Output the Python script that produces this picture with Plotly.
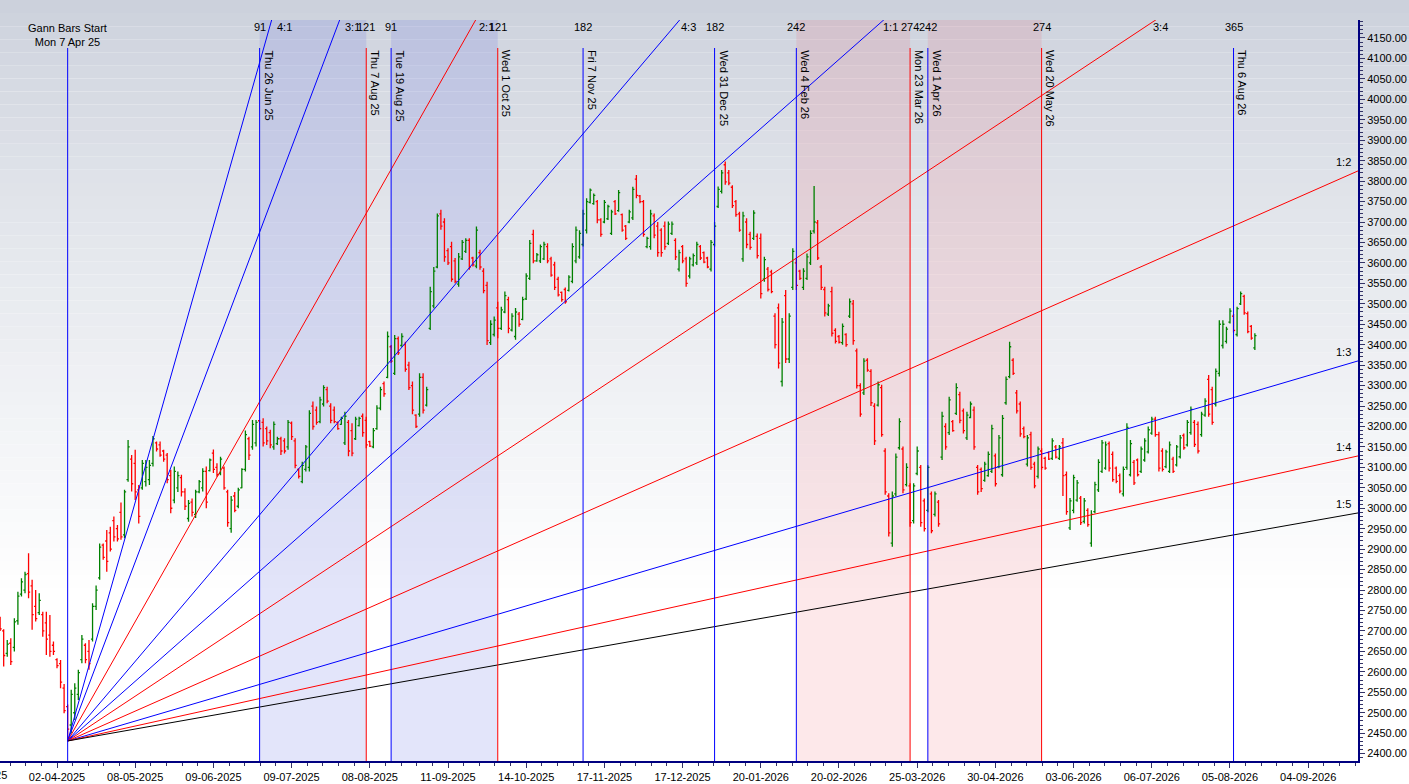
import pandas as pd
import plotly.graph_objects as go

# NSE trading calendar (weekdays minus exchange holidays)
NSE_HOLIDAYS = [
    "2025-02-26", "2025-03-14", "2025-03-31", "2025-04-10", "2025-04-14",
    "2025-04-18", "2025-05-01", "2025-08-15", "2025-08-27", "2025-10-02",
    "2025-10-22", "2025-11-05", "2025-12-25",
    "2026-01-15", "2026-01-26", "2026-03-03", "2026-03-26", "2026-03-31",
    "2026-04-03", "2026-04-14", "2026-05-01", "2026-05-28", "2026-06-26",
    "2026-09-14", "2026-10-02", "2026-10-20", "2026-11-10", "2026-11-24",
    "2026-12-25",
]
first_bar = "2025-03-07"

# daily bars (first bar = 7 Mar 2025)
opens = [
    2728, 2700, 2645, 2670, 2660, 2725, 2790, 2800, 2840, 2810,
    2760, 2745, 2740, 2720, 2690, 2665, 2630, 2620, 2560, 2515,
    2470, 2500, 2545, 2630, 2665, 2650, 2680, 2760, 2830, 2910,
    2920, 2940, 2970, 2950, 2990, 2935, 3070, 3120, 3110, 3045,
    3050, 3065, 3070, 3110, 3160, 3155, 3140, 3130, 3080, 3020,
    3050, 3075, 3040, 2975, 3015, 2985, 3040, 3050, 3090, 3092,
    3135, 3100, 3085, 3098, 3040, 2950, 3030, 3005, 3050, 3095,
    3170, 3150, 3160, 3214, 3210, 3195, 3185, 3150, 3158, 3170,
    3165, 3150, 3208, 3165, 3095, 3065, 3095, 3100, 3250, 3240,
    3212, 3255, 3290, 3250, 3240, 3210, 3205, 3160, 3210, 3190,
    3170, 3202, 3225, 3215, 3163, 3150, 3195, 3245, 3305, 3320,
    3395, 3330, 3415, 3398, 3400, 3350, 3300, 3228, 3230, 3320,
    3252, 3440, 3495, 3590, 3720, 3700, 3630, 3640, 3605, 3548,
    3610, 3628, 3655, 3612, 3592, 3625, 3580, 3545, 3405, 3425,
    3490, 3440, 3480, 3510, 3436, 3420, 3475, 3462, 3512, 3562,
    3670, 3605, 3605, 3610, 3640, 3610, 3595, 3560, 3528, 3535,
    3533, 3555, 3605, 3615, 3645, 3680, 3748, 3745, 3750, 3705,
    3700, 3708, 3672, 3750, 3728, 3718, 3690, 3700, 3710, 3805,
    3764, 3750, 3640, 3640, 3715, 3690, 3680, 3690, 3648, 3672,
    3655, 3585, 3640, 3610, 3568, 3595, 3600, 3640, 3625, 3612,
    3585, 3645, 3738, 3775, 3840, 3820, 3785, 3750, 3720, 3610,
    3700, 3670, 3660, 3665, 3660, 3560, 3585, 3578, 3470, 3490,
    3310, 3520, 3365, 3540, 3600, 3580, 3540, 3562, 3600, 3678,
    3698, 3590, 3535, 3475, 3530, 3435, 3420, 3405, 3425, 3470,
    3500, 3385, 3300, 3282, 3362, 3335, 3250, 3252, 3295, 3140,
    3030, 2915, 3035, 3148, 3145, 3058, 3055, 2970, 3085, 3100,
    3018, 2995, 3035, 2985, 3015, 3125, 3200, 3185, 3212, 3232,
    3278, 3238, 3172, 3222, 3240, 3100, 3095, 3068, 3080, 3090,
    3128, 3102, 3082, 3258, 3322, 3362, 3282, 3255, 3195, 3108,
    3180, 3108, 3078, 3140, 3122, 3136, 3122, 3150, 3122, 3160,
    3082, 2952, 2995, 3020, 3025, 2968, 2995, 2915, 2992, 3045,
    3090, 3098, 3158, 3132, 3098, 3080, 3035, 3100, 3082, 3112,
    3118, 3090, 3118, 3138, 3184, 3218, 3180, 3140, 3102, 3090,
    3120, 3106, 3126, 3178, 3155, 3185, 3210, 3205, 3180, 3228,
    3315, 3290, 3255, 3330, 3398, 3408, 3455, 3470, 3425, 3500,
    3518, 3476, 3445, 3392,
]
highs = [
    2735, 2704, 2678, 2682, 2731, 2796, 2829, 2845, 2890, 2825,
    2800, 2792, 2747, 2747, 2739, 2674, 2633, 2629, 2570, 2520,
    2556, 2572, 2605, 2690, 2670, 2678, 2768, 2811, 2914, 2914,
    2947, 2955, 2980, 2959, 3014, 3045, 3167, 3130, 3143, 3057,
    3118, 3118, 3118, 3177, 3163, 3163, 3143, 3135, 3094, 3102,
    3090, 3082, 3049, 3020, 3024, 3045, 3069, 3098, 3102, 3122,
    3144, 3110, 3126, 3102, 3045, 3030, 3040, 3050, 3098, 3190,
    3175, 3216, 3216, 3216, 3220, 3200, 3192, 3212, 3175, 3175,
    3171, 3216, 3212, 3171, 3098, 3114, 3155, 3240, 3261, 3249,
    3273, 3301, 3297, 3257, 3249, 3212, 3224, 3236, 3216, 3208,
    3224, 3224, 3232, 3224, 3165, 3196, 3252, 3297, 3310, 3432,
    3399, 3424, 3420, 3428, 3407, 3358, 3310, 3230, 3330, 3330,
    3297, 3542, 3590, 3721, 3730, 3709, 3636, 3652, 3612, 3624,
    3656, 3660, 3660, 3615, 3689, 3632, 3587, 3554, 3460, 3469,
    3505, 3493, 3530, 3517, 3477, 3490, 3480, 3517, 3575, 3656,
    3681, 3624, 3645, 3652, 3648, 3615, 3603, 3566, 3530, 3540,
    3570, 3648, 3689, 3680, 3730, 3758, 3782, 3770, 3754, 3709,
    3754, 3742, 3730, 3754, 3778, 3721, 3693, 3730, 3786, 3815,
    3766, 3754, 3664, 3730, 3721, 3700, 3685, 3701, 3701, 3701,
    3660, 3632, 3644, 3615, 3615, 3623, 3652, 3644, 3628, 3615,
    3656, 3700, 3787, 3827, 3848, 3827, 3790, 3754, 3725, 3725,
    3709, 3676, 3729, 3672, 3672, 3615, 3590, 3583, 3477, 3501,
    3465, 3534, 3477, 3636, 3611, 3583, 3587, 3623, 3680, 3788,
    3705, 3595, 3542, 3500, 3542, 3440, 3424, 3452, 3428, 3513,
    3509, 3391, 3306, 3367, 3367, 3340, 3257, 3310, 3302, 3147,
    3037, 3041, 3134, 3220, 3151, 3110, 3061, 3061, 3151, 3106,
    3024, 3105, 3041, 3041, 3020, 3236, 3208, 3273, 3216, 3306,
    3285, 3244, 3236, 3261, 3249, 3106, 3100, 3114, 3139, 3204,
    3134, 3179, 3228, 3322, 3407, 3367, 3289, 3261, 3200, 3179,
    3187, 3114, 3151, 3147, 3126, 3139, 3171, 3155, 3155, 3172,
    3090, 3025, 3082, 3069, 3030, 3025, 3000, 2995, 3065, 3120,
    3167, 3163, 3163, 3139, 3102, 3085, 3102, 3208, 3167, 3118,
    3122, 3151, 3171, 3200, 3224, 3224, 3187, 3147, 3143, 3163,
    3126, 3155, 3179, 3183, 3216, 3249, 3216, 3212, 3236, 3269,
    3326, 3297, 3342, 3460, 3460, 3444, 3489, 3475, 3493, 3530,
    3522, 3481, 3448, 3428,
]
lows = [
    2700, 2613, 2637, 2617, 2650, 2715, 2784, 2792, 2780, 2703,
    2723, 2739, 2686, 2641, 2637, 2641, 2609, 2560, 2499, 2431,
    2450, 2482, 2531, 2621, 2621, 2605, 2674, 2751, 2825, 2874,
    2845, 2894, 2919, 2919, 2923, 2927, 3065, 3041, 3020, 2963,
    3045, 3053, 3057, 3102, 3139, 3126, 3114, 3061, 2988, 3012,
    3040, 3029, 2996, 2967, 2980, 2976, 3037, 3041, 3000, 3090,
    3086, 3077, 3081, 3045, 2955, 2940, 2990, 3000, 3049, 3090,
    3118, 3143, 3151, 3192, 3151, 3155, 3147, 3143, 3155, 3130,
    3134, 3143, 3167, 3098, 3073, 3061, 3090, 3090, 3192, 3204,
    3208, 3249, 3257, 3208, 3208, 3192, 3204, 3155, 3127, 3127,
    3167, 3200, 3175, 3147, 3150, 3147, 3192, 3240, 3273, 3318,
    3355, 3326, 3375, 3395, 3334, 3289, 3230, 3196, 3224, 3232,
    3249, 3436, 3489, 3587, 3681, 3603, 3595, 3554, 3550, 3542,
    3607, 3624, 3583, 3591, 3587, 3583, 3526, 3399, 3399, 3420,
    3416, 3436, 3477, 3428, 3432, 3412, 3444, 3460, 3509, 3558,
    3599, 3603, 3600, 3607, 3599, 3566, 3534, 3518, 3505, 3500,
    3530, 3550, 3599, 3610, 3640, 3672, 3745, 3742, 3697, 3664,
    3697, 3705, 3668, 3717, 3725, 3676, 3656, 3697, 3705, 3758,
    3746, 3664, 3636, 3632, 3660, 3615, 3615, 3632, 3644, 3668,
    3607, 3579, 3599, 3542, 3562, 3591, 3595, 3607, 3599, 3587,
    3579, 3640, 3734, 3770, 3791, 3790, 3734, 3713, 3676, 3603,
    3636, 3632, 3656, 3611, 3513, 3554, 3530, 3526, 3391, 3342,
    3298, 3355, 3355, 3534, 3534, 3558, 3534, 3558, 3595, 3672,
    3607, 3534, 3469, 3470, 3420, 3403, 3403, 3400, 3395, 3465,
    3400, 3293, 3224, 3277, 3334, 3250, 3155, 3249, 3175, 3033,
    2931, 2906, 3029, 3143, 3037, 3053, 2955, 2963, 3081, 2955,
    2943, 2990, 2939, 2980, 2955, 3118, 3143, 3179, 3187, 3228,
    3208, 3183, 3167, 3220, 3143, 3033, 3040, 3065, 3077, 3086,
    3053, 3098, 3077, 3253, 3318, 3326, 3232, 3175, 3171, 3102,
    3094, 3049, 3073, 3094, 3094, 3118, 3118, 3122, 3118, 3030,
    2984, 2947, 2988, 3016, 2959, 2963, 2955, 2906, 2988, 3040,
    3086, 3094, 3090, 3065, 3061, 3037, 3029, 3094, 3078, 3057,
    3078, 3086, 3114, 3134, 3180, 3175, 3090, 3090, 3098, 3086,
    3086, 3102, 3122, 3143, 3151, 3180, 3150, 3134, 3175, 3224,
    3224, 3204, 3249, 3322, 3391, 3403, 3452, 3430, 3420, 3497,
    3473, 3428, 3412, 3387,
]
closes = [
    2705, 2640, 2668, 2625, 2722, 2785, 2820, 2838, 2795, 2740,
    2730, 2775, 2700, 2680, 2650, 2650, 2615, 2575, 2505, 2460,
    2545, 2560, 2598, 2680, 2630, 2620, 2760, 2800, 2905, 2880,
    2870, 2900, 2930, 2925, 2930, 3040, 3150, 3060, 3040, 2980,
    3110, 3100, 3105, 3170, 3145, 3130, 3120, 3070, 3000, 3090,
    3080, 3040, 3005, 3012, 2990, 3040, 3065, 3090, 3015, 3118,
    3095, 3082, 3120, 3050, 2965, 3020, 2995, 3045, 3095, 3180,
    3130, 3205, 3210, 3195, 3160, 3165, 3155, 3205, 3170, 3140,
    3140, 3210, 3175, 3105, 3078, 3105, 3150, 3232, 3200, 3210,
    3265, 3295, 3262, 3215, 3212, 3195, 3220, 3225, 3140, 3135,
    3218, 3220, 3185, 3155, 3152, 3190, 3245, 3290, 3280, 3420,
    3360, 3415, 3380, 3420, 3340, 3295, 3240, 3200, 3320, 3240,
    3290, 3530, 3580, 3715, 3690, 3615, 3600, 3560, 3555, 3615,
    3650, 3655, 3590, 3595, 3680, 3590, 3532, 3410, 3450, 3460,
    3440, 3485, 3520, 3440, 3470, 3480, 3450, 3510, 3568, 3648,
    3605, 3620, 3640, 3645, 3605, 3570, 3540, 3522, 3510, 3505,
    3565, 3640, 3680, 3672, 3720, 3750, 3778, 3765, 3705, 3670,
    3748, 3738, 3725, 3720, 3772, 3680, 3660, 3725, 3780, 3765,
    3750, 3670, 3660, 3720, 3668, 3625, 3625, 3640, 3695, 3695,
    3615, 3625, 3605, 3550, 3610, 3618, 3645, 3612, 3602, 3590,
    3650, 3690, 3780, 3820, 3798, 3795, 3740, 3718, 3680, 3715,
    3645, 3638, 3722, 3618, 3525, 3608, 3535, 3530, 3400, 3355,
    3455, 3365, 3470, 3628, 3545, 3562, 3580, 3615, 3672, 3700,
    3612, 3540, 3478, 3495, 3428, 3408, 3406, 3445, 3400, 3505,
    3410, 3300, 3230, 3360, 3338, 3258, 3165, 3302, 3180, 3040,
    2940, 3030, 3125, 3212, 3045, 3100, 2965, 3055, 3140, 2965,
    2950, 3100, 2945, 3035, 2962, 3225, 3150, 3265, 3190, 3295,
    3215, 3190, 3228, 3255, 3150, 3040, 3048, 3108, 3132, 3195,
    3060, 3172, 3220, 3315, 3395, 3330, 3238, 3182, 3175, 3172,
    3100, 3055, 3145, 3100, 3098, 3120, 3165, 3125, 3150, 3080,
    2992, 3018, 3075, 3062, 2965, 3018, 2960, 2985, 3058, 3112,
    3160, 3155, 3098, 3070, 3066, 3042, 3095, 3198, 3158, 3062,
    3082, 3145, 3165, 3192, 3218, 3180, 3098, 3095, 3138, 3155,
    3090, 3150, 3172, 3148, 3210, 3242, 3156, 3140, 3230, 3262,
    3230, 3210, 3335, 3450, 3450, 3438, 3482, 3435, 3488, 3525,
    3478, 3432, 3416, 3422,
]
assert len(opens) == len(highs) == len(lows) == len(closes)

tick_labels = [
    "02-04-2025", "08-05-2025", "09-06-2025", "09-07-2025", "08-08-2025",
    "11-09-2025", "14-10-2025", "17-11-2025", "17-12-2025", "20-01-2026",
    "20-02-2026", "25-03-2026", "30-04-2026", "03-06-2026", "06-07-2026",
    "05-08-2026", "04-09-2026",
]

# time cycle markers
event_dates = ["2025-06-26", "2025-08-07", "2025-08-19", "2025-10-01", "2025-11-07",
               "2025-12-31", "2026-02-04", "2026-03-23", "2026-04-01", "2026-05-20",
               "2026-08-06"]
event_colors = ["#0000ff", "#ff0000", "#0000ff", "#ff0000", "#0000ff",
                "#0000ff", "#0000ff", "#ff0000", "#0000ff", "#ff0000",
                "#0000ff"]
event_counts = ["91", "121", "91", "121", "182", "182", "242", "274", "242", "274", "365"]

blue_spans = [("2025-06-26", "2025-08-07"), ("2025-08-19", "2025-10-01")]
pink_spans = [("2026-02-04", "2026-03-23"), ("2026-04-01", "2026-05-20")]

# gann fan
gann_start = "2025-04-07"
gann_price = 2431
gann_unit = 7.68  # price per bar for the 1:1 angle
fan_ratios = ["4:1", "3:1", "2:1", "4:3", "1:1", "3:4", "1:2", "1:3", "1:4", "1:5"]
fan_colors = ["#0000ff", "#0000ff", "#ff0000", "#0000ff", "#0000ff",
              "#ff0000", "#ff0000", "#0000ff", "#ff0000", "#000000"]

FONT = "Liberation Sans, Arial, sans-serif"
PLOT_W, PLOT_H = 1358, 741
BAR_PX = 3.5545      # horizontal pixels per trading day
Y_RANGE = [2382, 4194]

days = pd.bdate_range("2025-02-03", "2026-12-31", freq="C", holidays=NSE_HOLIDAYS)
bar_no = {d.strftime("%Y-%m-%d"): i for i, d in enumerate(days)}


def to_bar(date_str):
    return bar_no[date_str]


def long_label(date_str):
    return pd.Timestamp(date_str).strftime("%a %-d %b %y")


offset = to_bar(first_bar)
xs = [offset + i for i in range(len(opens))]
tick_vals = [to_bar(pd.to_datetime(t, format="%d-%m-%Y").strftime("%Y-%m-%d")) for t in tick_labels]
tick_step = tick_vals[1] - tick_vals[0]
first_tick_px = 57
X_RANGE = [tick_vals[0] - first_tick_px / BAR_PX,
           tick_vals[0] + (PLOT_W - first_tick_px) / BAR_PX]

fig = go.Figure()
fig.add_trace(go.Ohlc(
    x=xs, open=opens, high=highs, low=lows, close=closes,
    increasing=dict(line=dict(color="#008000", width=1.3)),
    decreasing=dict(line=dict(color="#ff0000", width=1.3)),
    tickwidth=0.45, showlegend=False,
))

# fan lines
x0 = to_bar(gann_start)
label_price = Y_RANGE[1] - 7 * (Y_RANGE[1] - Y_RANGE[0]) / PLOT_H
annotations = []
for ratio, color in zip(fan_ratios, fan_colors):
    a, b = ratio.split(":")
    slope = gann_unit * float(a) / float(b)
    y_end = gann_price + slope * (X_RANGE[1] - x0)
    fig.add_trace(go.Scatter(
        x=[x0, X_RANGE[1]], y=[gann_price, y_end], mode="lines",
        line=dict(color=color, width=1), hoverinfo="skip", showlegend=False,
    ))
    if y_end > Y_RANGE[1]:
        x_cross = x0 + (label_price - gann_price) / slope
        annotations.append(dict(x=x_cross, y=1, xref="x", yref="paper", text=ratio,
                                showarrow=False, xanchor="center", yanchor="middle",
                                xshift=15, yshift=-7))
    else:
        annotations.append(dict(x=X_RANGE[1], y=y_end, xref="x", yref="y", text=ratio,
                                showarrow=False, xanchor="right", yanchor="bottom",
                                xshift=-5, yshift=1))

# background gradient (grey at top fading to white)
shapes = []
top_rgb = (203, 208, 219)
n_bands = 60
fig_h = 784
for k in range(n_bands):
    py0 = fig_h * k / n_bands
    py1 = fig_h * (k + 1) / n_bands
    t = min(1.0, ((py0 + py1) / 2) / 600.0) ** 0.8
    rgb = tuple(round(c + (255 - c) * t) for c in top_rgb)
    shapes.append(dict(type="rect", xref="paper", yref="paper",
                       x0=-0.01, x1=1.05,
                       y0=(761 - py1) / PLOT_H, y1=(761 - py0) / PLOT_H,
                       fillcolor="rgb(%d,%d,%d)" % rgb, line=dict(width=0), layer="below"))

for s, e in blue_spans:
    shapes.append(dict(type="rect", xref="x", yref="paper", x0=to_bar(s), x1=to_bar(e),
                       y0=0, y1=1, fillcolor="rgba(100,110,230,0.18)",
                       line=dict(width=0), layer="below"))
for s, e in pink_spans:
    shapes.append(dict(type="rect", xref="x", yref="paper", x0=to_bar(s), x1=to_bar(e),
                       y0=0, y1=1, fillcolor="rgba(240,80,90,0.13)",
                       line=dict(width=0), layer="below"))

# gann start marker
line_top = 713 / PLOT_H
shapes.append(dict(type="line", xref="x", yref="paper", x0=x0, x1=x0, y0=0, y1=line_top,
                   line=dict(color="#0000ff", width=1), layer="above"))
annotations.append(dict(x=x0, y=1, xref="x", yref="paper",
                        text="Gann Bars Start<br>" + long_label(gann_start),
                        showarrow=False, xanchor="center", yanchor="top", yshift=0))

for d, color, count in zip(event_dates, event_colors, event_counts):
    xb = to_bar(d)
    shapes.append(dict(type="line", xref="x", yref="paper", x0=xb, x1=xb, y0=0, y1=line_top,
                       line=dict(color=color, width=1), layer="above"))
    annotations.append(dict(x=xb, y=1, xref="x", yref="paper", text=long_label(d),
                            textangle=90, showarrow=False, xanchor="center", yanchor="top",
                            xshift=9, yshift=-28))
    annotations.append(dict(x=xb, y=1, xref="x", yref="paper", text=count,
                            showarrow=False, xanchor="center", yanchor="middle", yshift=-7))

# date label of the previous (scrolled-off) tick, cut by the left edge
prev_tick = tick_vals[0] - tick_step
annotations.append(dict(x=(prev_tick - X_RANGE[0]) * BAR_PX / PLOT_W, y=0,
                        xref="paper", yref="paper", text=days[prev_tick].strftime("%d-%m-%Y"),
                        showarrow=False, xanchor="center", yanchor="top", yshift=-6,
                        font=dict(family=FONT, size=11)))

fig.update_layout(
    width=1409, height=784,
    margin=dict(l=0, r=51, t=20, b=23),
    paper_bgcolor="white", plot_bgcolor="rgba(0,0,0,0)",
    font=dict(family=FONT, size=11, color="black"),
    shapes=shapes, annotations=annotations,
    showlegend=False, hovermode=False,
    xaxis=dict(
        range=X_RANGE, tickmode="array", tickvals=tick_vals, ticktext=tick_labels,
        ticks="outside", ticklen=5, tickcolor="#333366",
        showline=True, linecolor="#000080", linewidth=2,
        showgrid=False, zeroline=False, rangeslider=dict(visible=False),
        minor=dict(ticks="outside", ticklen=3, tick0=tick_vals[0], dtick=tick_step / 5,
                   tickcolor="#333366", showgrid=False),
        tickfont=dict(family=FONT, size=11),
    ),
    yaxis=dict(
        range=Y_RANGE, side="right", tick0=0, dtick=50, tickformat=".2f",
        ticks="outside", ticklen=5, tickcolor="#333366",
        showline=True, linecolor="#000080", linewidth=2,
        showgrid=False, zeroline=False,
        minor=dict(ticks="outside", ticklen=3, dtick=10, tickcolor="#333366", showgrid=False),
        tickfont=dict(family=FONT, size=11),
    ),
)

fig.write_html("out.html", config={"displayModeBar": False},
               post_script="document.body.style.margin='0px';")
